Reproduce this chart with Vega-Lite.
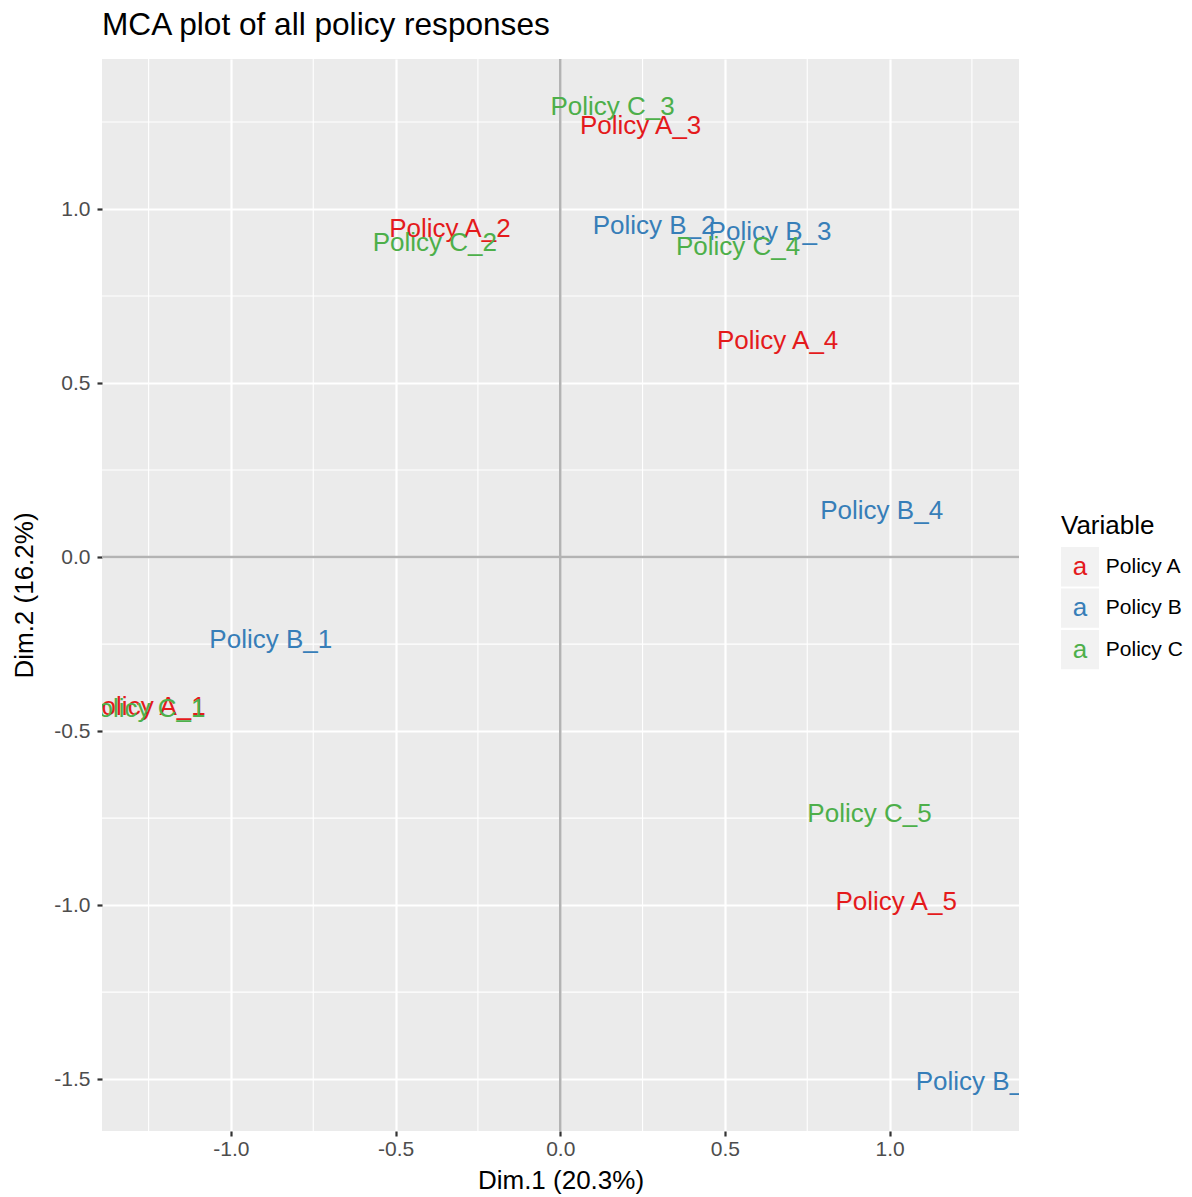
{
  "$schema": "https://vega.github.io/schema/vega-lite/v6.json",
  "padding": {"left": 11, "top": 10, "right": 0, "bottom": 4},
  "background": "white",
  "config": {
    "font": "Liberation Sans",
    "view": {"stroke": null},
    "locale": {"number": {"decimal": ".", "thousands": ",", "grouping": [3], "currency": ["$", ""], "minus": "-"}},
    "concat": {"spacing": 40},
    "axis": {
      "domain": false,
      "grid": true,
      "gridColor": "#FFFFFF",
      "gridWidth": 2.2,
      "tickColor": "#333333",
      "tickWidth": 2.2,
      "tickSize": 5,
      "labelColor": "#4D4D4D",
      "labelFontSize": 21,
      "labelFont": "Liberation Sans",
      "titleFont": "Liberation Sans",
      "titleFontSize": 26,
      "titleFontWeight": "normal",
      "titleColor": "#000000"
    },
    "axisX": {"labelPadding": 2, "titlePadding": 8},
    "axisY": {"labelPadding": 7, "titlePadding": 16}
  },
  "datasets": {
    "points": [
      {"label": "Policy A_1", "Variable": "Policy A", "x": -1.261, "y": -0.431},
      {"label": "Policy A_2", "Variable": "Policy A", "x": -0.335, "y": 0.943},
      {"label": "Policy A_3", "Variable": "Policy A", "x": 0.244, "y": 1.239},
      {"label": "Policy A_4", "Variable": "Policy A", "x": 0.66, "y": 0.621},
      {"label": "Policy A_5", "Variable": "Policy A", "x": 1.02, "y": -0.991},
      {"label": "Policy B_1", "Variable": "Policy B", "x": -0.879, "y": -0.239},
      {"label": "Policy B_2", "Variable": "Policy B", "x": 0.285, "y": 0.951},
      {"label": "Policy B_3", "Variable": "Policy B", "x": 0.637, "y": 0.934},
      {"label": "Policy B_4", "Variable": "Policy B", "x": 0.976, "y": 0.132},
      {"label": "Policy B_5", "Variable": "Policy B", "x": 1.266, "y": -1.509},
      {"label": "Policy C_1", "Variable": "Policy C", "x": -1.266, "y": -0.437},
      {"label": "Policy C_2", "Variable": "Policy C", "x": -0.381, "y": 0.902},
      {"label": "Policy C_3", "Variable": "Policy C", "x": 0.159, "y": 1.293},
      {"label": "Policy C_4", "Variable": "Policy C", "x": 0.54, "y": 0.891},
      {"label": "Policy C_5", "Variable": "Policy C", "x": 0.939, "y": -0.739}
    ],
    "minorX": [{"x": -1.25}, {"x": -0.75}, {"x": -0.25}, {"x": 0.25}, {"x": 0.75}, {"x": 1.25}],
    "minorY": [{"y": 1.25}, {"y": 0.75}, {"y": 0.25}, {"y": -0.25}, {"y": -0.75}, {"y": -1.25}],
    "zeroX": [{"x": 0}],
    "zeroY": [{"y": 0}],
    "legend": [{"Variable": "Policy A"}, {"Variable": "Policy B"}, {"Variable": "Policy C"}]
  },
  "hconcat": [
    {
      "width": 917,
      "height": 1072,
      "title": {"text": "MCA plot of all policy responses", "anchor": "start", "frame": "group", "fontSize": 31.6, "fontWeight": "normal", "color": "#000000", "font": "Liberation Sans", "offset": 16},
      "view": {"fill": "#EBEBEB", "stroke": null},
      "layer": [
        {
          "data": {"name": "minorX"},
          "mark": {"type": "rule", "color": "#FFFFFF", "strokeWidth": 1.1},
          "encoding": {
            "x": {"field": "x", "type": "quantitative", "title": "Dim.1 (20.3%)", "scale": {"domain": [-1.3915, 1.393], "nice": false, "zero": false}, "axis": {"values": [-1, -0.5, 0, 0.5, 1], "format": ".1f"}}
          }
        },
        {
          "data": {"name": "minorY"},
          "mark": {"type": "rule", "color": "#FFFFFF", "strokeWidth": 1.1},
          "encoding": {
            "y": {"field": "y", "type": "quantitative", "title": "Dim.2 (16.2%)", "scale": {"domain": [-1.649, 1.431], "nice": false, "zero": false}, "axis": {"values": [-1.5, -1, -0.5, 0, 0.5, 1], "format": ".1f"}}
          }
        },
        {
          "data": {"name": "zeroX"},
          "mark": {"type": "rule", "color": "#B3B3B3", "strokeWidth": 2.5},
          "encoding": {
            "x": {"field": "x", "type": "quantitative", "title": "Dim.1 (20.3%)"}
          }
        },
        {
          "data": {"name": "zeroY"},
          "mark": {"type": "rule", "color": "#B3B3B3", "strokeWidth": 2.5},
          "encoding": {
            "y": {"field": "y", "type": "quantitative", "title": "Dim.2 (16.2%)"}
          }
        },
        {
          "data": {"name": "points"},
          "mark": {"type": "text", "fontSize": 26, "font": "Liberation Sans", "align": "center", "baseline": "middle", "clip": true},
          "encoding": {
            "x": {"field": "x", "type": "quantitative", "title": "Dim.1 (20.3%)"},
            "y": {"field": "y", "type": "quantitative", "title": "Dim.2 (16.2%)"},
            "text": {"field": "label"},
            "color": {"field": "Variable", "type": "nominal", "scale": {"domain": ["Policy A", "Policy B", "Policy C"], "range": ["#E41A1C", "#377EB8", "#4DAF4A"]}, "legend": null}
          }
        }
      ]
    },
    {
      "width": 130,
      "height": 158,
      "title": {"text": "Variable", "anchor": "start", "frame": "group", "fontSize": 26, "fontWeight": "normal", "color": "#000000", "font": "Liberation Sans", "offset": 8},
      "data": {"name": "legend"},
      "encoding": {
        "y": {"field": "Variable", "type": "nominal", "axis": null, "scale": {"type": "band", "paddingInner": 0.05, "paddingOuter": 0.43, "align": 0}}
      },
      "layer": [
        {
          "mark": {"type": "rect", "fill": "#F2F2F2"},
          "encoding": {
            "x": {"datum": 0, "type": "quantitative", "scale": {"domain": [0, 3.42], "nice": false, "zero": false}, "axis": null},
            "x2": {"datum": 1}
          }
        },
        {
          "mark": {"type": "text", "text": "a", "fontSize": 26, "font": "Liberation Sans", "align": "center", "baseline": "middle"},
          "encoding": {
            "x": {"datum": 0.5, "type": "quantitative"},
            "color": {"field": "Variable", "type": "nominal", "scale": {"domain": ["Policy A", "Policy B", "Policy C"], "range": ["#E41A1C", "#377EB8", "#4DAF4A"]}, "legend": null}
          }
        },
        {
          "mark": {"type": "text", "fontSize": 21, "font": "Liberation Sans", "align": "left", "baseline": "middle", "color": "#000000"},
          "encoding": {
            "x": {"datum": 1.18, "type": "quantitative"},
            "text": {"field": "Variable"}
          }
        }
      ]
    }
  ],
  "center": true
}
